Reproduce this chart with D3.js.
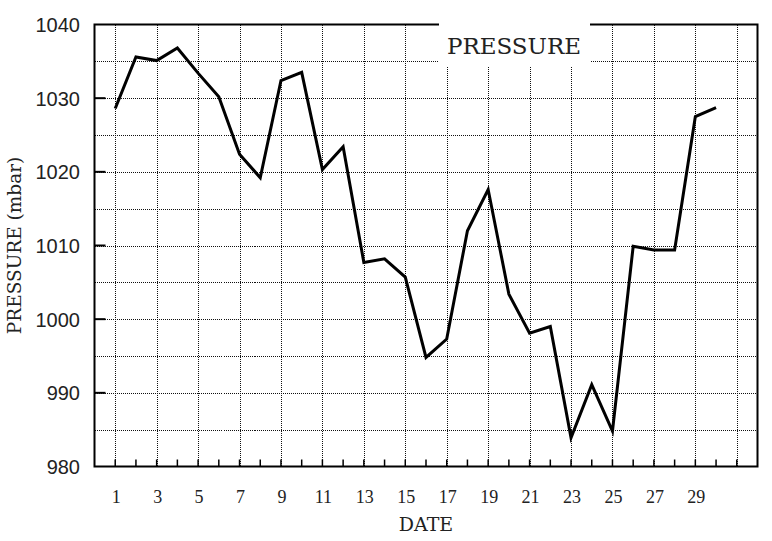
<!DOCTYPE html>
<html><head><meta charset="utf-8">
<script src="https://cdn.jsdelivr.net/npm/d3@7"></script>
<style>html,body{margin:0;padding:0;background:#fff;}svg{display:block;}</style>
</head><body>
<script>
const days = d3.range(1, 31);
const pressure = [1028.6, 1035.6, 1035.1, 1036.8, 1033.4, 1030.2, 1022.4, 1019.2, 1032.4, 1033.5,
  1020.3, 1023.4, 1007.7, 1008.2, 1005.7, 994.8, 997.3, 1012.0, 1017.6, 1003.4,
  998.1, 999.0, 983.9, 991.1, 984.8, 1009.9, 1009.4, 1009.4, 1027.5, 1028.7];
const yTicks = [980, 990, 1000, 1010, 1020, 1030, 1040];
const yGrid = [985, 990, 995, 1000, 1005, 1010, 1015, 1020, 1025, 1030, 1035];
const xTickLabels = [1, 3, 5, 7, 9, 11, 13, 15, 17, 19, 21, 23, 25, 27, 29];
const xGrid = [1, 3, 5, 7, 9, 11, 13, 15, 17, 19, 21, 23, 25, 27, 29, 31];
const xMinorTicks = d3.range(1, 32);
const title = "PRESSURE";
const xTitle = "DATE";
const yTitle = "PRESSURE (mbar)";

const W = 772, H = 541;
const L = 94.5, R = 757.5, T = 24.5, B = 466.5;
const svg = d3.select("body").append("svg").attr("width", W).attr("height", H);
const x = d3.scaleLinear().domain([0, 32]).range([L, R]);
const y = d3.scaleLinear().domain([980, 1040]).range([B, T]);

// grid
const g = svg.append("g").attr("shape-rendering", "crispEdges");
g.selectAll("line.hg").data(yGrid).join("line")
  .attr("x1", L).attr("x2", R)
  .attr("y1", d => Math.round(y(d)) + 0.5).attr("y2", d => Math.round(y(d)) + 0.5)
  .attr("stroke", "#111").attr("stroke-width", 1).attr("stroke-dasharray", "1,1");
g.selectAll("line.vg").data(xGrid).join("line")
  .attr("x1", d => Math.round(x(d)) + 0.5).attr("x2", d => Math.round(x(d)) + 0.5)
  .attr("y1", T).attr("y2", B)
  .attr("stroke", "#111").attr("stroke-width", 1).attr("stroke-dasharray", "1,1");

// data line
const line = d3.line().x((d, i) => x(days[i])).y(d => y(d));
svg.append("path").datum(pressure).attr("d", line)
  .attr("fill", "none").attr("stroke", "#000").attr("stroke-width", 3)
  .attr("stroke-linejoin", "miter");

// title box
svg.append("rect").attr("x", 439).attr("y", 20).attr("width", 151).attr("height", 47).attr("fill", "#fff");

// frame
svg.append("path")
  .attr("d", `M439,${T} H${L} V${B} H${R} V${T} H590`)
  .attr("fill", "none").attr("stroke", "#000").attr("stroke-width", 2);

// y ticks
svg.selectAll("line.yt").data(yTicks.slice(1, -1)).join("line")
  .attr("x1", L).attr("x2", L + 11)
  .attr("y1", d => y(d)).attr("y2", d => y(d))
  .attr("stroke", "#000").attr("stroke-width", 2);
// x ticks
svg.selectAll("line.xt").data(xMinorTicks).join("line")
  .attr("x1", d => x(d)).attr("x2", d => x(d))
  .attr("y1", B).attr("y2", B - 7)
  .attr("stroke", "#000").attr("stroke-width", 1.5);

// y tick labels
svg.selectAll("text.yl").data(yTicks).join("text")
  .attr("x", 80).attr("y", d => y(d) + 7.5)
  .attr("text-anchor", "end")
  .attr("font-family", "Liberation Sans, Arial, sans-serif").attr("font-size", 20)
  .attr("fill", "#222").text(d => d);

// x tick labels
svg.selectAll("text.xl").data(xTickLabels).join("text")
  .attr("x", d => x(d) + 1).attr("y", 503)
  .attr("text-anchor", "middle")
  .attr("font-family", "Liberation Serif, serif").attr("font-size", 18)
  .attr("fill", "#222").text(d => d);

// axis titles
svg.append("text").attr("x", x(16)).attr("y", 531).attr("text-anchor", "middle")
  .attr("font-family", "DejaVu Serif, serif").attr("font-size", 19)
  .attr("fill", "#222").text(xTitle);
svg.append("text").attr("transform", `translate(21,${(T + B) / 2}) rotate(-90)`)
  .attr("text-anchor", "middle")
  .attr("font-family", "DejaVu Serif, serif").attr("font-size", 18.5)
  .attr("fill", "#222").text(yTitle);
svg.append("text").attr("x", 514).attr("y", 54).attr("text-anchor", "middle")
  .attr("font-family", "DejaVu Serif, serif").attr("font-size", 23)
  .attr("fill", "#222").text(title);
</script>
</body></html>
